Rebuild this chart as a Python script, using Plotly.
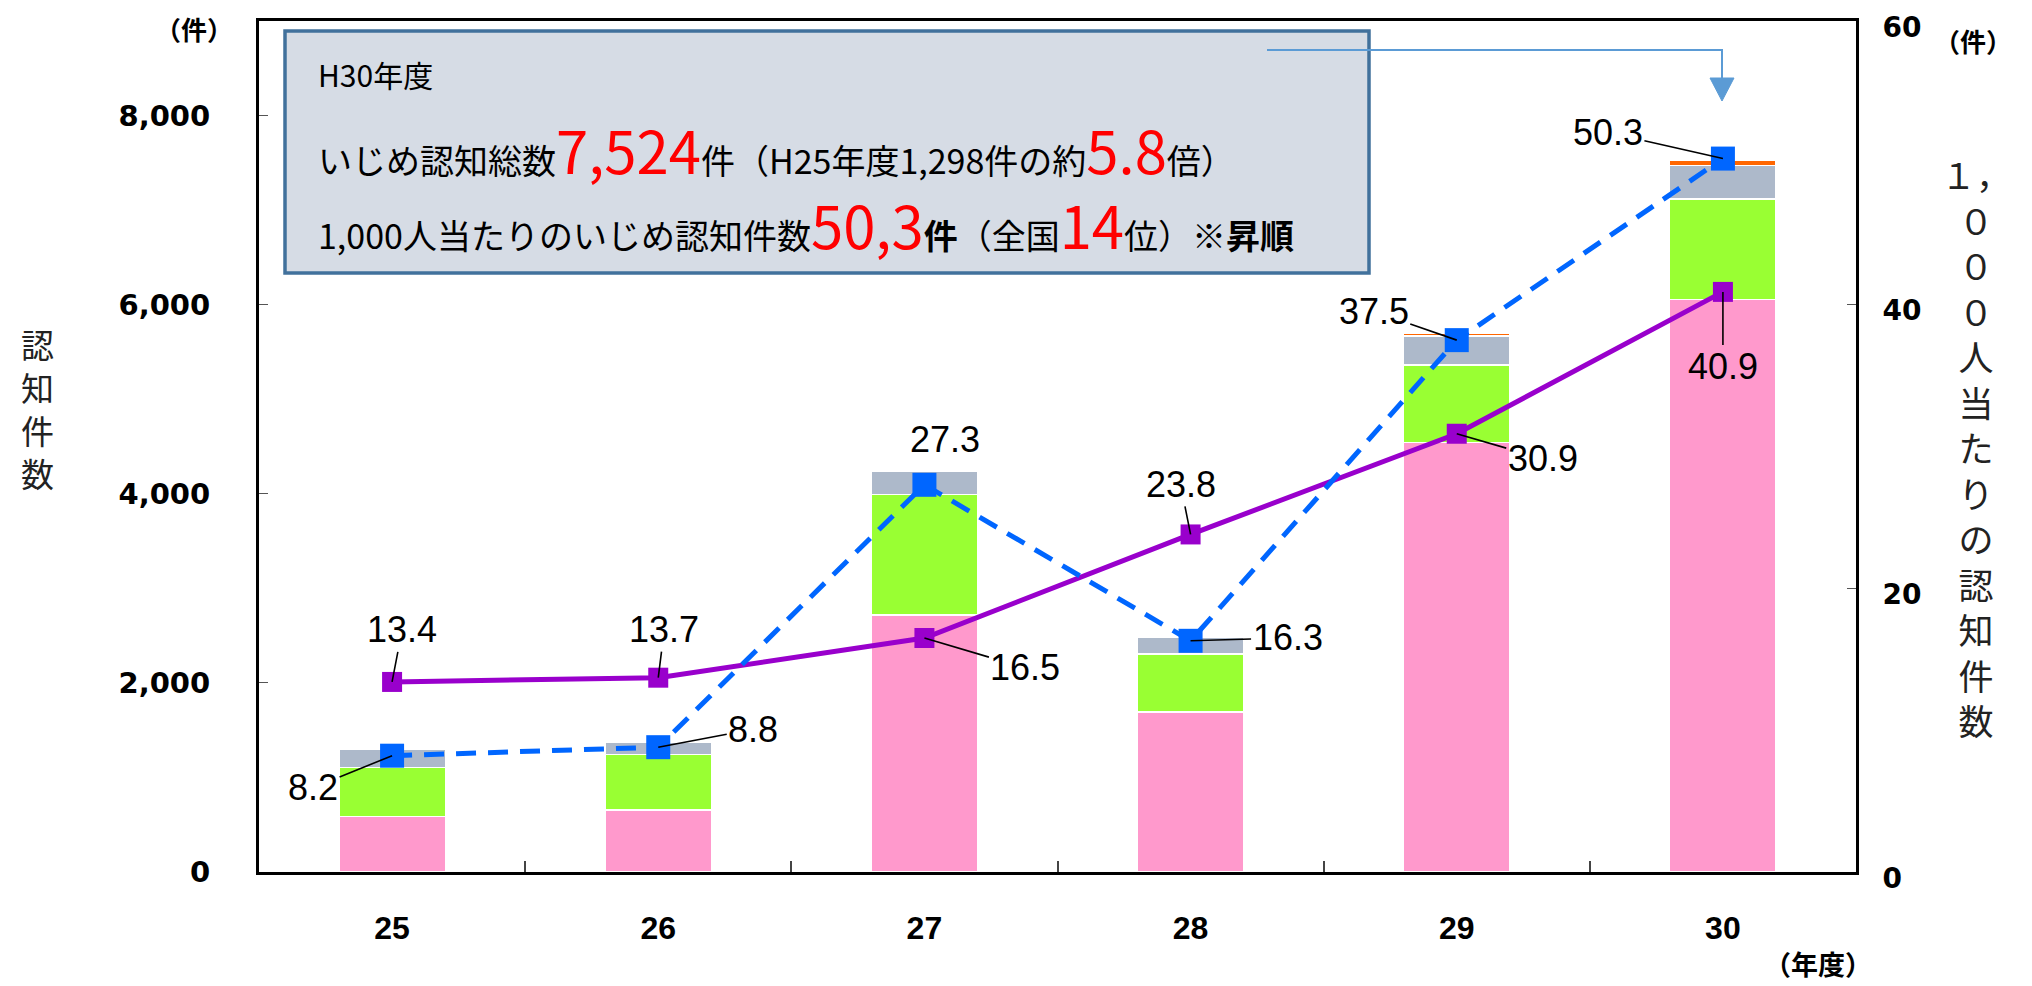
import plotly.graph_objects as go

# ---- data ----
years = ["25", "26", "27", "28", "29", "30"]
elem = [585, 654, 2716, 1690, 4545, 6055]      # 小学校
junior = [519, 587, 1274, 614, 819, 1060]      # 中学校
high = [190, 134, 248, 176, 304, 355]          # 高等学校
special = [4, 5, 10, 18, 25, 54]               # 特別支援学校
rate_pref = [8.2, 8.8, 27.3, 16.3, 37.5, 50.3]  # 1,000人当たり（県）
rate_nat = [13.4, 13.7, 16.5, 23.8, 30.9, 40.9]  # 1,000人当たり（全国）

bar_names = ["小学校", "中学校", "高等学校", "特別支援学校"]
bar_colors = ["#FF99CC", "#99FF33", "#ADB9CA", "#FF6600"]

OFF = 8  # page body margin
W, H = 2024, 978
ML, MR, MT, MB = 251, 176, 13, 114
PW, PH = W - ML - MR, H - MT - MB

JP = "Noto Sans CJK JP"
NUM = "Liberation Sans Narrow, Liberation Sans, Arial"

fig = go.Figure()
for name, vals, col in zip(bar_names, [elem, junior, high, special], bar_colors):
    fig.add_trace(go.Bar(x=years, y=vals, name=name, marker_color=col,
                         marker_line_color="white", marker_line_width=1.5,
                         yaxis="y"))

fig.add_trace(go.Scatter(x=years, y=rate_nat, yaxis="y2", mode="lines+markers",
                         name="全国", line=dict(color="#9900CC", width=5),
                         marker=dict(symbol="square", size=20, color="#9900CC")))
fig.add_trace(go.Scatter(x=years, y=rate_pref, yaxis="y2", mode="lines+markers",
                         name="県", line=dict(color="#0066FF", width=5, dash="20px,12px"),
                         marker=dict(symbol="square", size=24, color="#0066FF")))

annotations = []
# data labels (offsets in px)
pref_off = [(-79, 32, True), (95, -18, True), (21, -45, False), (97, -3, True), (-83, -29, True), (-115, -26, True)]
nat_off = [(10, -52, True), (6, -48, True), (101, 30, True), (-10, -50, True), (86, 25, True), (0, 75, True)]
for vals, offs in [(rate_pref, pref_off), (rate_nat, nat_off)]:
    for i, (yv, (ax, ay, arr)) in enumerate(zip(vals, offs)):
        if arr:
            annotations.append(dict(x=i, y=yv, xref="x", yref="y2", text=f"{yv:.1f}",
                                    showarrow=True, ax=ax, ay=ay, arrowhead=0, arrowwidth=1.6,
                                    arrowcolor="black", standoff=0,
                                    xanchor="center", yanchor="middle",
                                    font=dict(family=NUM, size=36, color="black")))
        else:
            annotations.append(dict(x=i, y=yv, xref="x", yref="y2", text=f"{yv:.1f}",
                                    showarrow=False, xshift=ax, yshift=-ay,
                                    xanchor="center", yanchor="middle",
                                    font=dict(family=NUM, size=36, color="black")))


def px(xp):
    return (xp - OFF - ML) / PW


def py(yp):
    return (H - MB - (yp - OFF)) / PH


def lab(x, y, text, size, weight="normal", color="black"):
    return dict(x=px(x), y=py(y), xref="paper", yref="paper", text=text, showarrow=False,
                xanchor="center", yanchor="middle",
                font=dict(family=JP, size=size, color=color, weight=weight))


# axis unit labels / titles
annotations += [
    lab(194, 29, "（件）", 26, "bold"),
    lab(1973, 41, "（件）", 26, "bold"),
    lab(1818, 963, "（年度）", 27, "bold"),
    lab(37, 408, "認<br>知<br>件<br>数", 33, color="#222"),
    lab(1976, 446, "<br>".join(["１，", "０", "０", "０", "人", "当", "た", "り", "の",
                                "認", "知", "件", "数"]), 35, color="#222"),
]

# info box text
red = "#FF0000"
BIG = 58
line1 = "H30年度"
line2 = ("いじめ認知総数<span style='font-size:%dpx;color:%s'>7,524</span>件（H25年度1,298件の約"
         "<span style='font-size:%dpx;color:%s'>5.8</span>倍）") % (BIG, red, BIG, red)
line3 = ("1,000人当たりのいじめ認知件数<span style='font-size:%dpx;color:%s'>50,3</span><b>件</b>（全国"
         "<span style='font-size:%dpx;color:%s'>14</span>位）<b>※昇順</b>") % (BIG, red, BIG, red)
for txt, yc, sz in [(line1, 74, 30), (line2, 149, 34), (line3, 224, 34)]:
    annotations.append(dict(x=px(316), y=py(yc), xref="paper", yref="paper", text=txt,
                            xanchor="left", yanchor="middle", align="left", showarrow=False,
                            font=dict(family=JP, size=sz, color="black")))

shapes = [
    dict(type="rect", xref="paper", yref="paper", x0=px(285), x1=px(1369), y0=py(273), y1=py(31),
         fillcolor="#D6DCE5", line=dict(color="#41719C", width=3.5), layer="above"),
    dict(type="path", xref="paper", yref="paper",
         path=f"M {px(1267)} {py(50)} L {px(1722)} {py(50)} L {px(1722)} {py(80)}",
         line=dict(color="#5B9BD5", width=2)),
    dict(type="path", xref="paper", yref="paper",
         path=f"M {px(1710)} {py(78)} L {px(1734)} {py(78)} L {px(1722)} {py(101)} Z",
         fillcolor="#5B9BD5", line=dict(color="#5B9BD5", width=1)),
]

fig.update_layout(
    width=W, height=H, margin=dict(l=ML, r=MR, t=MT, b=MB, pad=0, autoexpand=False),
    paper_bgcolor="white", plot_bgcolor="white",
    barmode="stack", bargap=0.6, showlegend=False,
    annotations=annotations, shapes=shapes,
    xaxis=dict(type="category", range=[-0.5, 5.5], showline=True, linecolor="black", linewidth=3, mirror=True,
               ticks="inside", tickson="boundaries", ticklen=11, tickwidth=1.5, tickcolor="#444",
               tickfont=dict(family=NUM, size=32, color="black", weight="bold"),
               ticklabelstandoff=26, showgrid=False, zeroline=False, automargin=False),
    yaxis=dict(range=[0, 9000], tickvals=[0, 2000, 4000, 6000, 8000], tickformat=",",
               showline=True, linecolor="black", linewidth=3, mirror=True,
               ticks="inside", ticklen=9, tickwidth=1, tickcolor="#555",
               tickfont=dict(family="DejaVu Sans", size=29, color="black", weight="bold"),
               ticklabelstandoff=40, ticklabeloverflow="allow", automargin=False,
               showgrid=False, zeroline=False),
    yaxis2=dict(range=[0, 60], tickvals=[0, 20, 40, 60], overlaying="y", side="right",
                showline=True, linecolor="black", linewidth=3,
                ticks="inside", ticklen=9, tickwidth=1, tickcolor="#555",
                tickfont=dict(family="DejaVu Sans", size=28, color="black", weight="bold"),
                ticklabelstandoff=18, ticklabelshift=6, ticklabeloverflow="allow", automargin=False,
                showgrid=False, zeroline=False),
)

fig.write_html("out.html")
